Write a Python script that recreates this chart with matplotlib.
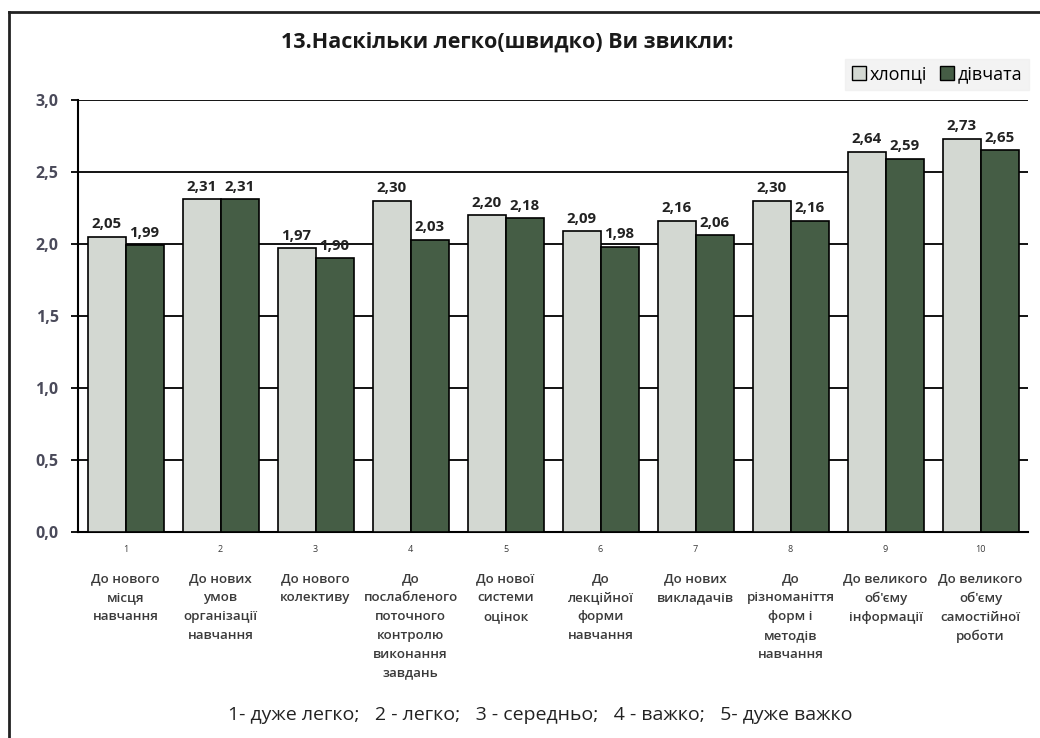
import matplotlib
matplotlib.use("Agg")
import matplotlib.pyplot as plt
from matplotlib.lines import Line2D
from matplotlib.patches import Patch
import numpy as np

plt.rcParams["font.family"] = ["Open Sans", "DejaVu Sans"]

# data
categories = [
    "До нового\nмісця\nнавчання",
    "До нових\nумов\nорганізації\nнавчання",
    "До нового\nколективу",
    "До\nпослабленого\nпоточного\nконтролю\nвиконання\nзавдань",
    "До нової\nсистеми\nоцінок",
    "До\nлекційної\nформи\nнавчання",
    "До нових\nвикладачів",
    "До\nрізноманіття\nформ і\nметодів\nнавчання",
    "До великого\nоб'єму\nінформації",
    "До великого\nоб'єму\nсамостійної\nроботи",
]
numbers = [str(i) for i in range(1, 11)]
boys = [2.05, 2.31, 1.97, 2.30, 2.20, 2.09, 2.16, 2.30, 2.64, 2.73]
girls = [1.99, 2.31, 1.90, 2.03, 2.18, 1.98, 2.06, 2.16, 2.59, 2.65]
yticks = [0.0, 0.5, 1.0, 1.5, 2.0, 2.5, 3.0]
series_names = ["хлопці", "дівчата"]

light = "#d3d8d2"
dark = "#455d45"
label_col = "#3a3a3a"

fig = plt.figure(figsize=(10.4, 7.38), dpi=100)
ax = fig.add_axes([0.075, 0.279, 0.9135, 0.5855])

x = np.arange(1, len(categories) + 1)
w = 0.4
b1 = ax.bar(x - w / 2, boys, w, color=light, edgecolor="black", linewidth=1.2, zorder=3)
b2 = ax.bar(x + w / 2, girls, w, color=dark, edgecolor="black", linewidth=1.2, zorder=3)

for bars, vals in ((b1, boys), (b2, girls)):
    for rect, v in zip(bars, vals):
        ax.annotate(f"{v:.2f}".replace(".", ","),
                    (rect.get_x() + rect.get_width() / 2, v),
                    xytext=(0, 4), textcoords="offset points",
                    ha="center", va="bottom", fontsize=10.8,
                    fontweight="bold", color="#222222")

ax.set_xlim(0.5, 10.5)
ax.set_ylim(0, 3.0)
ax.set_yticks(yticks)
ax.set_yticklabels([f"{t:.1f}".replace(".", ",") for t in yticks],
                   fontsize=11.5, fontweight="bold", color="#4a4a5a")
ax.yaxis.grid(True, color="black", linewidth=1.3, zorder=0)
ax.set_axisbelow(True)
ax.tick_params(axis="y", length=5, width=1.3, color="black", pad=9)

ax.set_xticks(x)
ax.set_xticklabels(numbers, fontsize=6.5, color=label_col)
ax.tick_params(axis="x", length=0, pad=9)

for s in ("top", "right"):
    ax.spines[s].set_visible(False)
ax.spines["left"].set_linewidth(1.5)
ax.spines["bottom"].set_linewidth(1.5)

for xi, cat in zip(x, categories):
    ax.annotate(cat, (xi, 0), xycoords=("data", "axes fraction"),
                xytext=(0, -29), textcoords="offset points",
                ha="center", va="top", fontsize=9.6, fontweight="semibold",
                color=label_col, linespacing=1.58)

fig.text(0.488, 0.943, "13.Наскільки легко(швидко) Ви звикли:",
         ha="center", va="center", fontsize=15.5, fontweight="bold",
         color="#1a1a1a")

fig.text(0.519, 0.031,
         "1- дуже легко;   2 - легко;   3 - середньо;   4 - важко;   5- дуже важко",
         ha="center", va="center", fontsize=14, color="#222222")

handles = [Patch(facecolor=light, edgecolor="black", linewidth=1),
           Patch(facecolor=dark, edgecolor="black", linewidth=1)]
leg = fig.legend(handles, series_names, loc="center", bbox_to_anchor=(0.901, 0.899),
                 ncol=2, frameon=True, fontsize=13, handlelength=0.8,
                 handleheight=0.8, handletextpad=0.2, columnspacing=0.7,
                 borderpad=0.35, fancybox=False)
leg.get_frame().set_facecolor("#f0f0f0")
leg.get_frame().set_edgecolor("#f0f0f0")

# outer chart frame
fig.add_artist(Line2D([9 / 1040, 9 / 1040], [0, 1 - 12 / 738], color="#222222",
                      linewidth=2, transform=fig.transFigure))
fig.add_artist(Line2D([9 / 1040, 1], [1 - 12 / 738, 1 - 12 / 738], color="#222222",
                      linewidth=2, transform=fig.transFigure))

fig.savefig("out.png", dpi=100)
